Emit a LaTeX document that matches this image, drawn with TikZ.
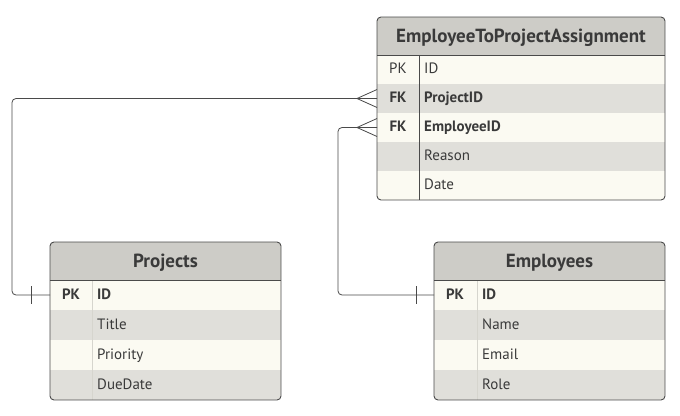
\documentclass[tikz,border=0pt]{standalone}
\usepackage{fontspec}
\setmainfont{PT Sans}
\usetikzlibrary{calc,positioning}

\definecolor{hdrgray}{HTML}{CDCCC7}
\definecolor{rowlight}{HTML}{FBFAF2}
\definecolor{rowdark}{HTML}{E0DFDA}
\definecolor{edgegray}{HTML}{4A4A4A}
\definecolor{txtgray}{HTML}{3A3A3A}
\definecolor{faintline}{HTML}{D6D5CE}

\tikzset{
  rowA/.style={fill=rowlight,inner sep=0,outer sep=0,anchor=north west},
  rowB/.style={fill=rowdark,inner sep=0,outer sep=0,anchor=north west},
  tblhead/.style={font=\bfseries\fontsize{19}{22}\selectfont,text=txtgray,anchor=base,inner sep=0},
  keytxt/.style={font=\fontsize{15}{17}\selectfont,text=txtgray,text height=11pt,text depth=3pt,inner sep=0},
  keybold/.style={keytxt,font=\bfseries\fontsize{15}{17}\selectfont},
  fieldtxt/.style={keytxt,anchor=west},
  fieldbold/.style={keybold,anchor=west},
  border/.style={draw=edgegray,line width=0.9pt,rounded corners=4pt},
  rel/.style={draw=edgegray,line width=0.8pt}
}

\begin{document}
\begin{tikzpicture}[x=1pt,y=-1pt]
    \useasboundingbox (0,0) rectangle (680,415);
    % EmployeeToProjectAssignment
    \begin{scope}
      \clip[rounded corners=4pt] (377,17) rectangle (665,200);
      \fill[hdrgray] (377,17) rectangle (665,55);
      \node[rowA,minimum width=288pt,minimum height=29pt] (epa-id) at (377,55) {};
      \node[rowB,minimum width=288pt,minimum height=29pt] (epa-pid) at (377,84) {};
      \node[rowA,minimum width=288pt,minimum height=29pt] (epa-eid) at (377,113) {};
      \node[rowB,minimum width=288pt,minimum height=29pt] (epa-reason) at (377,142) {};
      \node[rowA,minimum width=288pt,minimum height=29pt] (epa-date) at (377,171) {};
    \end{scope}
    \draw[border] (377,17) rectangle (665,200);
    \draw[edgegray,line width=0.9pt] (377,55) -- (665,55);
    \draw[edgegray,line width=0.9pt] (419,55) -- (419,200);
    \node[tblhead] (epa) at (521,42) {EmployeeToProjectAssignment};
    \node[keytxt] at ($(epa-id.west)+(21,0)$) {PK};
    \node[fieldtxt] at ($(epa-id.west)+(47,0)$) {ID};
    \node[keybold] at ($(epa-pid.west)+(21,0)$) {FK};
    \node[fieldbold] at ($(epa-pid.west)+(47,0)$) {ProjectID};
    \node[keybold] at ($(epa-eid.west)+(21,0)$) {FK};
    \node[fieldbold] at ($(epa-eid.west)+(47,0)$) {EmployeeID};
    \node[fieldtxt] at ($(epa-reason.west)+(47,0)$) {Reason};
    \node[fieldtxt] at ($(epa-date.west)+(47,0)$) {Date};

    % Projects
    \begin{scope}
      \clip[rounded corners=4pt] (50,242) rectangle (281,400);
      \fill[hdrgray] (50,242) rectangle (281,280);
      \node[rowA,minimum width=231pt,minimum height=30pt] (prj-id) at (50,280) {};
      \node[rowB,minimum width=231pt,minimum height=30pt] (prj-title) at (50,310) {};
      \node[rowA,minimum width=231pt,minimum height=30pt] (prj-prio) at (50,340) {};
      \node[rowB,minimum width=231pt,minimum height=30pt] (prj-due) at (50,370) {};
    \end{scope}
    \draw[faintline] (92,280) -- (92,400);
    \draw[border] (50,242) rectangle (281,400);
    \draw[edgegray,line width=0.9pt] (50,280) -- (281,280);
    \node[tblhead] (prj) at (165.5,267) {Projects};
    \node[keybold] at ($(prj-id.west)+(21,0)$) {PK};
    \node[fieldbold] at ($(prj-id.west)+(47,0)$) {ID};
    \node[fieldtxt] at ($(prj-title.west)+(47,0)$) {Title};
    \node[fieldtxt] at ($(prj-prio.west)+(47,0)$) {Priority};
    \node[fieldtxt] at ($(prj-due.west)+(47,0)$) {DueDate};

    % Employees
    \begin{scope}
      \clip[rounded corners=4pt] (434,242) rectangle (665,400);
      \fill[hdrgray] (434,242) rectangle (665,280);
      \node[rowA,minimum width=231pt,minimum height=30pt] (emp-id) at (434,280) {};
      \node[rowB,minimum width=231pt,minimum height=30pt] (emp-name) at (434,310) {};
      \node[rowA,minimum width=231pt,minimum height=30pt] (emp-mail) at (434,340) {};
      \node[rowB,minimum width=231pt,minimum height=30pt] (emp-role) at (434,370) {};
    \end{scope}
    \draw[faintline] (477,280) -- (477,400);
    \draw[border] (434,242) rectangle (665,400);
    \draw[edgegray,line width=0.9pt] (434,280) -- (665,280);
    \node[tblhead] (emp) at (549.5,267) {Employees};
    \node[keybold] at ($(emp-id.west)+(21,0)$) {PK};
    \node[fieldbold] at ($(emp-id.west)+(48,0)$) {ID};
    \node[fieldtxt] at ($(emp-name.west)+(48,0)$) {Name};
    \node[fieldtxt] at ($(emp-mail.west)+(48,0)$) {Email};
    \node[fieldtxt] at ($(emp-role.west)+(48,0)$) {Role};

    % relations
    \draw[rel,rounded corners=4pt] (prj-id.west) -- ++(-38,0) |- (epa-pid.west);
    \draw[rel] ($(prj-id.west)+(-19,-9)$) -- ++(0,18);
    \draw[rel] ($(epa-pid.west)+(-20,0)$) -- ++(20,-9);
    \draw[rel] ($(epa-pid.west)+(-20,0)$) -- ++(20,9);

    \draw[rel,rounded corners=4pt] (emp-id.west) -- ++(-96,0) |- (epa-eid.west);
    \draw[rel] ($(emp-id.west)+(-18,-9)$) -- ++(0,18);
    \draw[rel] ($(epa-eid.west)+(-20,0)$) -- ++(20,-9);
    \draw[rel] ($(epa-eid.west)+(-20,0)$) -- ++(20,9);
\end{tikzpicture}
\end{document}
